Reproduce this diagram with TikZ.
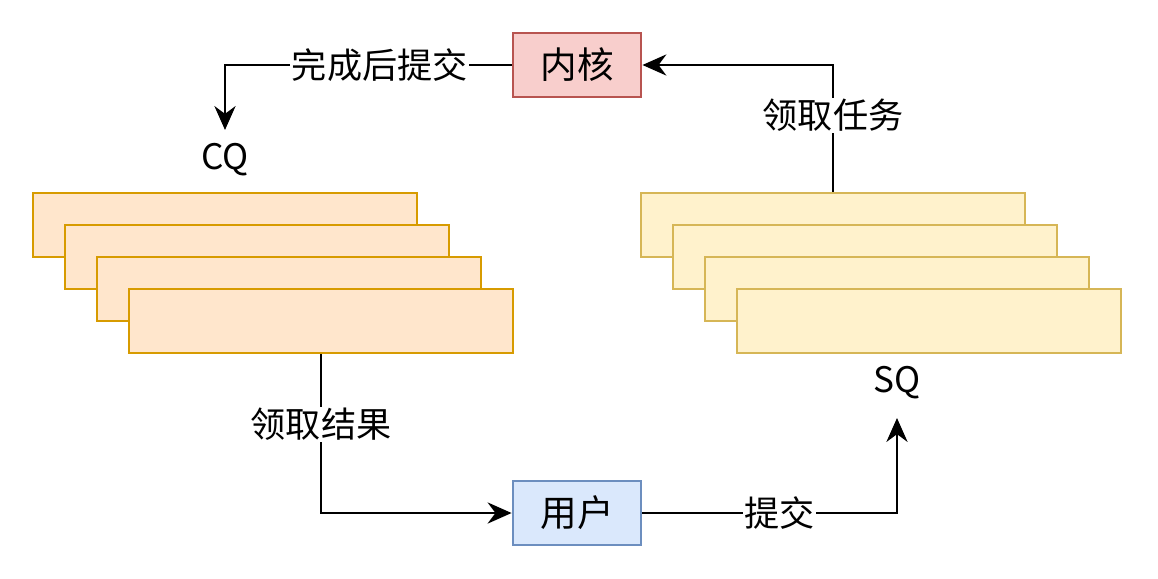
\documentclass[tikz,border=0pt]{standalone}
\usepackage{fontspec}
\setmainfont{Noto Sans CJK SC}
\usetikzlibrary{arrows.meta, positioning}
\definecolor{kernfill}{HTML}{F8CECC}
\definecolor{kerndraw}{HTML}{B85450}
\definecolor{userfill}{HTML}{DAE8FC}
\definecolor{userdraw}{HTML}{6C8EBF}
\definecolor{cqfill}{HTML}{FFE6CC}
\definecolor{cqdraw}{HTML}{D79B00}
\definecolor{sqfill}{HTML}{FFF2CC}
\definecolor{sqdraw}{HTML}{D6B656}

\begin{document}
\begin{tikzpicture}[
  x=0.025cm, y=-0.025cm,
  box/.style={rectangle, line width=2pt, minimum width=3.2cm, minimum height=1.6cm, inner sep=0pt, font=\fontsize{26}{30}\selectfont},
  entry/.style={rectangle, line width=2pt, minimum width=9.6cm, minimum height=1.6cm, inner sep=0pt},
  flow/.style={-{Stealth[length=17pt,width=15pt]}, line width=2pt},
  lbl/.style={fill=white, inner sep=1pt, font=\fontsize{25}{29}\selectfont}
]
\useasboundingbox (0,0) rectangle (1158,579);

% Kernel and user
\node[box, fill=kernfill, draw=kerndraw] (kern) at (577,65) {内核};
\node[box, fill=userfill, draw=userdraw] (user) at (577,513) {用户};

% Completion queue
\node[entry, fill=cqfill, draw=cqdraw] (cq1) at (225,225) {};
\node[entry, fill=cqfill, draw=cqdraw] (cq2) at (257,257) {};
\node[entry, fill=cqfill, draw=cqdraw] (cq3) at (289,289) {};
\node[entry, fill=cqfill, draw=cqdraw] (cq4) at (321,321) {};
\node[font=\fontsize{25}{29}\selectfont] (cqname) at (225,160) {CQ};

% Submission queue
\node[entry, fill=sqfill, draw=sqdraw] (sq1) at (833,225) {};
\node[entry, fill=sqfill, draw=sqdraw] (sq2) at (865,257) {};
\node[entry, fill=sqfill, draw=sqdraw] (sq3) at (897,289) {};
\node[entry, fill=sqfill, draw=sqdraw] (sq4) at (929,321) {};
\node[font=\fontsize{25}{29}\selectfont] (sqname) at (897,383) {SQ};

% Connections
\coordinate (cqtop) at (225,130);
\coordinate (sqbot) at (897,418);
\draw[flow] (kern.west) -| node[lbl, pos=0.23] {完成后提交} (cqtop);
\draw[flow] (sq1.north) |- node[lbl, pos=0.3] {领取任务} (kern.east);
\draw[flow] (cq4.south) |- node[lbl, pos=0.22] {领取结果} (user.west);
\draw[flow] (user.east) -| node[lbl, pos=0.27] {提交} (sqbot);

\end{tikzpicture}
\end{document}
